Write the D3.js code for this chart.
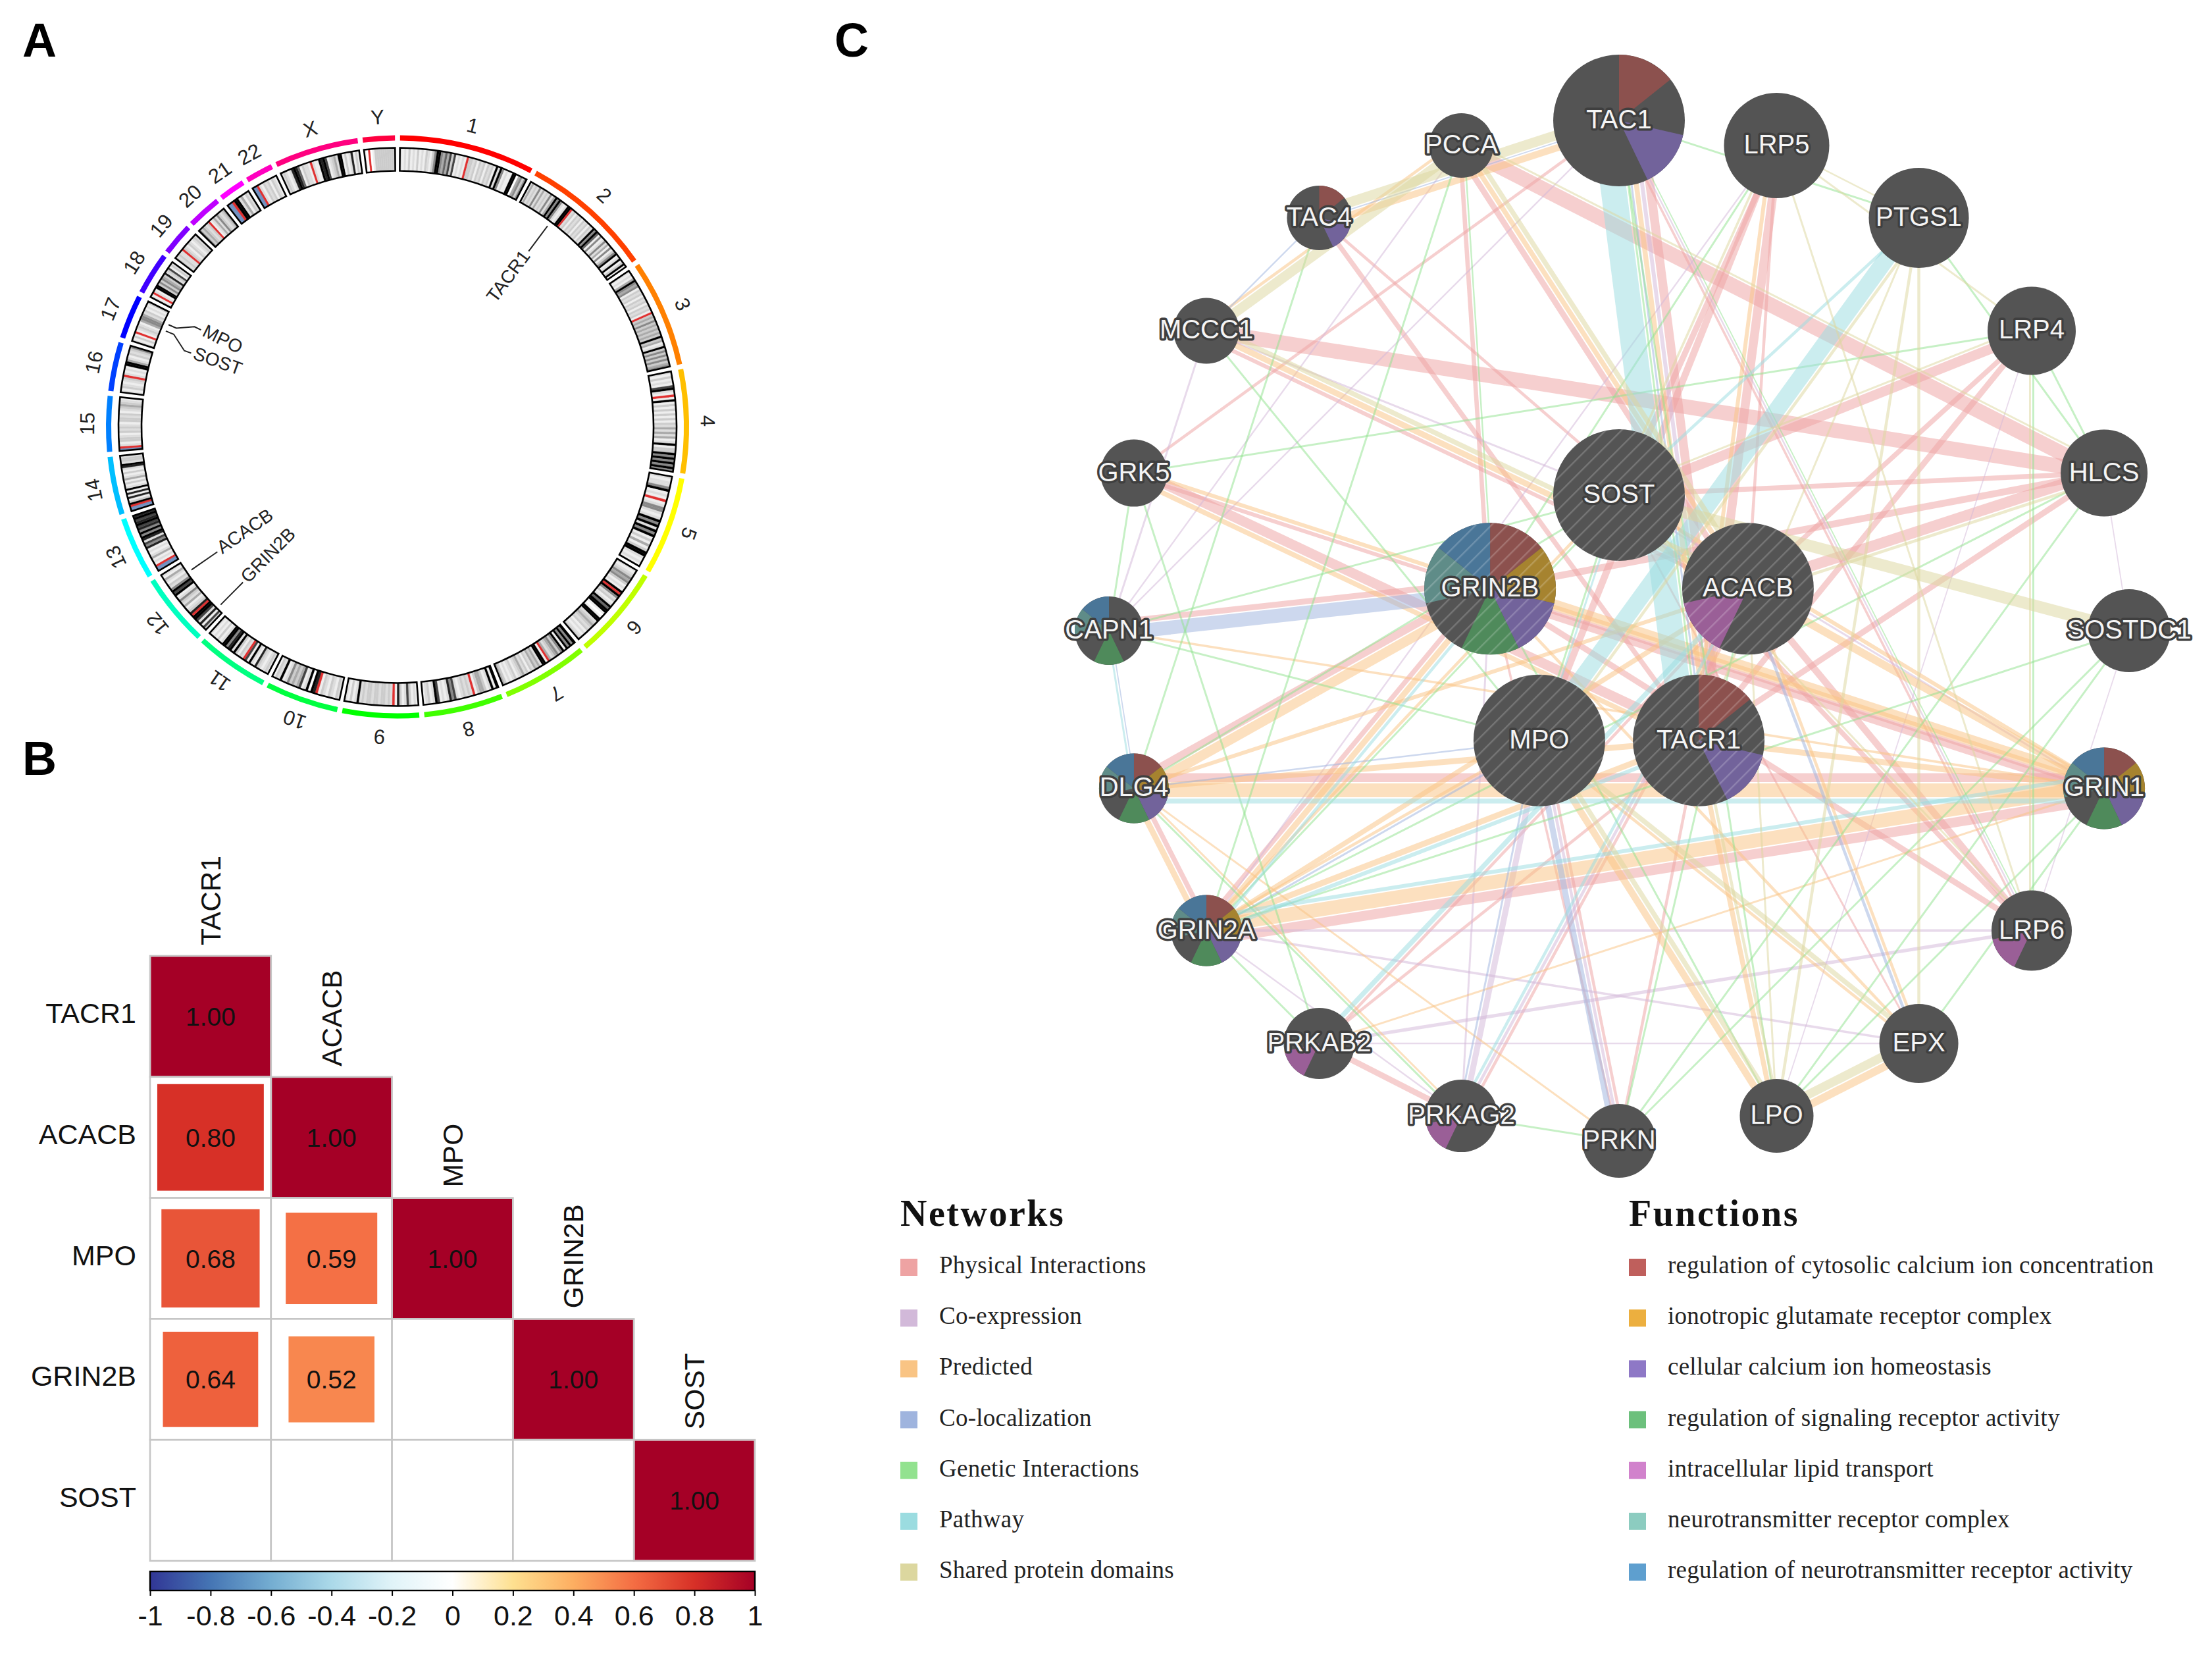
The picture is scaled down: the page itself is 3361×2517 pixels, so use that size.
<!doctype html>
<html>
<head>
<meta charset="UTF-8">
<title>Panels A B C</title>
<script src="https://d3js.org/d3.v7.min.js"></script>
<style>
  body { margin: 0; background: #fff; }
  text { font-family: "Liberation Sans", Arial, sans-serif; }
  .legend text { font-family: "Liberation Serif", serif; }
</style>
</head>
<body>
<svg id="fig" width="3361" height="2517" viewBox="0 0 3361 2517"></svg>
<script>
// ---------- panel A data ----------
var chromNames = ["1","2","3","4","5","6","7","8","9","10","11","12","13","14","15","16","17","18","19","20","21","22","X","Y"];
var chromLengths = [249,243,198,191,181,171,159,146,141,135,135,134,115,107,102,90,81,78,59,63,48,51,155,59];
var chromColors = ["#ff0000","#ff4000","#ff8000","#ffbf00","#ffff00","#bfff00","#80ff00","#40ff00","#00ff00","#00ff40","#00ff80","#00ffbf",
                   "#00ffff","#00bfff","#0080ff","#0040ff","#0000ff","#4000ff","#8000ff","#bf00ff","#ff00ff","#ff00bf","#ff0080","#ff0040"];
// one character per stretch of the chromosome: 0 white .. 9 black, r centromere, b stalk
var chromBands = [
  "2121312131213213599546473712121r3323132313231929512119904535",
  "24232524232524959521299r2313231323132959615125241513591291391",
  "2121495451323132313231r34353434343934129353535345",
  "2131217921r19131313131324242412913395959595",
  "212259121r125521295929591314139921 21".replace(/ /g,""),
  "212354531219r95231296991019923432312123",
  "95959195354324r19924342313243213212134",
  "9192134431r232321275821217921321",
  "1213721381r23233233233232921312",
  "231231231r890921743435219231",
  "232123812917r231392985992131212",
  "37182799r832142352197952312412",
  "bbr121421218572895958798798",
  "bbr931818192131421312892332",
  "br2133213232133231234321",
  "2132123r2121994213235",
  "2131r123214554231213",
  "21r21993535438237132",
  "32322r321321232",
  "534323r124253234",
  "bbr9924132",
  "bbr213231321",
  "232128986132 21r2119897123429913128131".replace(/ /g,""),
  "10r013333333333"
];
var geneNames = ["TACR1","MPO","SOST","ACACB","GRIN2B"];
var geneChroms = ["2","17","17","12","12"];
var genePositions = [75.3,56.3,41.8,109.5,13.7];   // Mb
var geneLabelShift = [0,2.2,-2.8,0,0];             // degrees the label is pushed from the gene

// ---------- panel B data ----------
var corrGenes = ["TACR1","ACACB","MPO","GRIN2B","SOST"];
var corrTACR1 = [1.00];
var corrACACB = [0.80,1.00];
var corrMPO = [0.68,0.59,1.00];
var corrGRIN2B = [0.64,0.52,null,1.00];
var corrSOST = [null,null,null,null,1.00];
var colorDomain = [-1,-0.8,-0.6,-0.4,-0.2,0,0.2,0.4,0.6,0.8,1];
var colorRange = ["#313695","#4575b4","#74add1","#abd9e9","#e0f3f8","#ffffff","#fee090","#fdae61","#f46d43","#d73027","#a50026"];
var colorTicks = [-1,-0.8,-0.6,-0.4,-0.2,0,0.2,0.4,0.6,0.8,1];

// ---------- panel C data ----------
var outerGenes = ["TAC1","LRP5","PTGS1","LRP4","HLCS","SOSTDC1","GRIN1","LRP6","EPX","LPO","PRKN","PRKAG2","PRKAB2","GRIN2A","DLG4","CAPN1","GRK5","MCCC1","TAC4","PCCA"];
var outerScores = [1.00,0.80,0.76,0.67,0.66,0.63,0.62,0.61,0.60,0.56,0.56,0.55,0.54,0.54,0.53,0.52,0.51,0.50,0.49,0.49];
var queryGenes = ["SOST","ACACB","TACR1","MPO","GRIN2B"];
var queryScores = [1,1,1,1,1];

var functionNames = ["regulation of cytosolic calcium ion concentration","ionotropic glutamate receptor complex","cellular calcium ion homeostasis",
  "regulation of signaling receptor activity","intracellular lipid transport","neurotransmitter receptor complex","regulation of neurotransmitter receptor activity"];
var functionColors = ["#bf5f5c","#ecaf3f","#8e78c6","#6cc07c","#d182cc","#8cccc0","#5e9fcf"];
var functionWedge = ["#8c514e","#a6832f","#72639b","#4f8a5b","#9a5f97","#5f8c88","#4a7698"];
// which functions each gene belongs to (index into functionNames)
var geneFunctions = {
  TAC1:[0,2], TAC4:[0,2], TACR1:[0,2], ACACB:[4], LRP6:[4], PRKAB2:[4], PRKAG2:[4],
  GRIN2B:[0,1,2,3,5,6], GRIN1:[0,1,2,3,5,6], GRIN2A:[0,1,2,3,5,6], DLG4:[0,1,2,3,5,6], CAPN1:[3,5,6]
};

var networkNames = ["Physical Interactions","Co-expression","Predicted","Co-localization","Genetic Interactions","Pathway","Shared protein domains"];
var networkColors = ["#eea3a3","#d2b9d9","#f9c484","#9fb4de","#92e28f","#9bdce0","#dcd79f"];

var physicalEdges = [["PCCA","HLCS",.75],["MCCC1","HLCS",.75],["PCCA","ACACB",.3],["MCCC1","ACACB",.2],["TAC1","TACR1",.45],["TAC1","GRK5",.15],
  ["TAC4","TACR1",.25],["TAC4","ACACB",.15],["PCCA","GRIN2B",.22],["LRP5","TACR1",.45],["LRP5","MPO",.35],["LRP5","SOST",.3],["LRP5","ACACB",.15],
  ["LRP4","SOST",.5],["LRP4","TACR1",.3],["LRP4","ACACB",.25],["HLCS","ACACB",.55],["HLCS","TACR1",.3],["HLCS","GRIN2B",.35],["HLCS","SOST",.25],
  ["GRK5","TACR1",.5],["GRK5","GRIN1",.2],["CAPN1","GRIN2B",.3],["DLG4","GRIN1",.45],["DLG4","GRIN2B",.4],["DLG4","GRIN2A",.25],["GRIN2A","GRIN1",.5],
  ["GRIN2A","GRIN2B",.25],["GRIN1","GRIN2B",.4],["LRP6","ACACB",.35],["LRP6","GRIN2B",.3],["LRP6","SOST",.25],["LRP6","TAC1",.12],["PRKAB2","PRKAG2",.3],
  ["PRKAB2","TACR1",.15],["PRKAB2","ACACB",.15],["PRKAG2","ACACB",.15],["PRKN","GRIN2B",.12],["PRKN","TACR1",.15],["PRKN","MPO",.15],["EPX","SOST",.1]];
var coexpEdges = [["GRIN2A","LRP6",.13],["GRIN2A","EPX",.12],["PRKAB2","LRP6",.17],["PRKAG2","MPO",.3],["PRKAG2","ACACB",.15],["PRKN","MPO",.15],
  ["MCCC1","CAPN1",.1],["TAC1","CAPN1",.08],["PCCA","CAPN1",.08],["TAC1","LRP6",.08],["LRP5","GRIN2A",.08],["LRP4","LPO",.06],["MCCC1","SOST",.1],
  ["SOSTDC1","HLCS",.06],["SOSTDC1","LRP6",.06],["GRIN2A","PRKAG2",.08],["EPX","PRKAB2",.08],["SOST","GRIN1",.1],["GRIN2B","PRKAG2",.1],["TAC1","TACR1",.2]];
var predictedEdges = [["TAC1","TAC4",.35],["MCCC1","ACACB",.3],["PCCA","ACACB",.25],["PCCA","MCCC1",.15],["DLG4","GRIN1",.7],["DLG4","GRIN2B",.5],
  ["DLG4","GRIN2A",.3],["GRIN2A","GRIN1",.7],["GRIN2A","GRIN2B",.3],["GRIN1","GRIN2B",.55],["GRIN1","TACR1",.3],["GRIN1","ACACB",.4],["DLG4","ACACB",.2],
  ["DLG4","TACR1",.3],["GRIN2A","ACACB",.25],["GRIN2A","TACR1",.3],["GRK5","GRIN1",.2],["GRK5","TACR1",.25],["MPO","LPO",.35],["MPO","EPX",.15],["EPX","LPO",.4],
  ["TACR1","LPO",.25],["LRP5","TACR1",.2],["TAC1","TACR1",.25],["CAPN1","GRIN1",.12],["MPO","GRIN2A",.15],["PRKAB2","GRIN1",.1],["PRKN","DLG4",.1],
  ["GRIN2B","EPX",.15],["ACACB","EPX",.15],["PRKAG2","DLG4",.1],["SOST","GRIN1",.2],["SOST","GRIN2A",.15]];
var colocEdges = [["CAPN1","GRIN2B",.7],["PRKN","MPO",.3],["TAC4","MCCC1",.08],["TAC1","TAC4",.06],["ACACB","EPX",.15],["GRIN2A","MPO",.1],["CAPN1","DLG4",.06],["PRKAG2","MPO",.1],["MPO","DLG4",.08],["TAC1","TACR1",.1]];
var geneticEdges = [["GRK5","LRP4",.1],["TAC1","PTGS1",.1],["PCCA","GRIN2A",.1],["TAC4","DLG4",.1],["MCCC1","MPO",.1],["GRK5","PRKAB2",.1],["CAPN1","MPO",.1],
  ["PTGS1","HLCS",.1],["LRP4","HLCS",.1],["LPO","GRIN1",.1],["GRIN2B","LPO",.1],["SOSTDC1","GRIN2A",.1],["SOSTDC1","PRKN",.1],["PRKN","PRKAG2",.1],["HLCS","PRKN",.1],
  ["HLCS","GRIN2A",.1],["TAC1","LPO",.1],["SOST","CAPN1",.1],["DLG4","SOST",.1],["DLG4","PRKAG2",.1],["GRIN2A","SOST",.1],["LRP5","GRIN2B",.1],["SOST","MPO",.1],
  ["ACACB","PRKN",.1],["LRP6","LRP4",.1],["GRK5","CAPN1",.1],["LRP6","TAC1",.06],["EPX","GRIN1",.1],["PRKAB2","GRIN2A",.1],["SOSTDC1","LPO",.1],["PCCA","GRIN2B",.08],["TAC1","TACR1",.1]];
var pathwayEdges = [["TAC1","TACR1",1.3],["PTGS1","MPO",.85],["PRKAB2","ACACB",.25],["PRKAG2","ACACB",.15],["GRIN2A","TACR1",.2],["DLG4","GRIN1",.25],
  ["CAPN1","DLG4",.1],["GRIN2A","GRIN1",.2],["GRIN2A","GRIN2B",.15],["SOST","MPO",.1],["SOST","PTGS1",.15]];
var domainEdges = [["PCCA","MCCC1",.5],["TAC1","TAC4",.5],["PCCA","ACACB",.25],["MCCC1","ACACB",.25],["HLCS","ACACB",.15],["SOST","SOSTDC1",.6],["PTGS1","MPO",.15],
  ["PTGS1","LPO",.15],["PTGS1","EPX",.15],["LRP4","LRP5",.1],["LRP4","LRP6",.1],["LRP5","LRP6",.1],["LRP4","SOST",.1],["LRP5","SOST",.12],["LRP6","SOST",.1],
  ["MPO","LPO",.25],["MPO","EPX",.25],["EPX","LPO",.45],["PTGS1","TACR1",.1],["LRP5","PTGS1",.08],["PCCA","HLCS",.1],["ACACB","LPO",.1],["TACR1","LPO",.15]];

var svg = d3.select("#fig");
var rad = function(a) { return a * Math.PI / 180; };

// panel letters
svg.selectAll("text.panel").data([["A",34,86],["B",34,1177],["C",1268,86]]).enter().append("text")
  .attr("class","panel").attr("x",function(d){return d[1];}).attr("y",function(d){return d[2];})
  .attr("font-size",72).attr("font-weight","bold").text(function(d){return d[0];});

// ---------- A: circular ideogram ----------
function drawIdeogram() {
  var g = svg.append("g").attr("transform","translate(604,648.5)");
  var gap = 1;
  var perMb = (360 - gap * chromNames.length) / d3.sum(chromLengths);
  var greys = {"0":"#ffffff","1":"#eeeeee","2":"#dddddd","3":"#cccccc","4":"#aaaaaa","5":"#888888","6":"#666666","7":"#444444","8":"#222222","9":"#000000","r":"#e03030","b":"#6f8fbf"};
  var rIn = 389, rOut = 424;
  var chromScale = {};
  var start = gap / 2;
  chromNames.forEach(function(name, i) {
    var end = start + chromLengths[i] * perMb;
    chromScale[name] = d3.scaleLinear().domain([0, chromLengths[i]]).range([start, end]);
    var a = chromScale[name];

    // coloured outer arc
    g.append("path").attr("fill", chromColors[i])
      .attr("d", d3.arc()({innerRadius:435, outerRadius:443, startAngle:rad(start), endAngle:rad(end)}));

    // chromosome number
    var mid = (start + end) / 2;
    var p = d3.pointRadial(rad(mid), 469);
    g.append("text").attr("transform","translate(" + p[0] + "," + p[1] + ") rotate(" + mid + ")")
      .attr("text-anchor","middle").attr("dominant-baseline","middle")
      .attr("font-size",31).attr("fill","#222").text(name);

    // bands
    var chars = chromBands[i].split("");
    var step = chromLengths[i] / chars.length;
    g.append("g").selectAll("path").data(chars).enter().append("path")
      .attr("fill", function(c){ return greys[c]; })
      .attr("stroke", function(c){ return greys[c]; }).attr("stroke-width",0.4)
      .attr("d", function(c, j) {
        return d3.arc()({innerRadius:rIn, outerRadius:rOut, startAngle:rad(a(j*step)), endAngle:rad(a((j+1)*step))});
      });
    g.append("path").attr("fill","none").attr("stroke","#000").attr("stroke-width",2.6)
      .attr("d", d3.arc()({innerRadius:rIn, outerRadius:rOut, startAngle:rad(start), endAngle:rad(end)}));
    start = end + gap;
  });

  // gene ticks and labels
  var linkLine = d3.lineRadial().curve(d3.curveLinear);
  geneNames.forEach(function(name, i) {
    var angle = chromScale[geneChroms[i]](genePositions[i]);
    var labelAngle = angle + geneLabelShift[i];
    g.append("path").attr("fill","none").attr("stroke","#222").attr("stroke-width",2)
      .attr("d", linkLine([[rad(angle),381],[rad(angle),368],[rad(labelAngle),344],[rad(labelAngle),333]]));
    var p = d3.pointRadial(rad(labelAngle), 329);
    var rightSide = labelAngle < 180;
    g.append("text").attr("transform","translate(" + p[0] + "," + p[1] + ") rotate(" + (rightSide ? labelAngle - 90 : labelAngle + 90) + ")")
      .attr("text-anchor", rightSide ? "end" : "start").attr("dominant-baseline","middle")
      .attr("font-size",28).attr("fill","#222").text(name);
  });
}

// ---------- B: correlation matrix ----------
function drawCorrelation() {
  var g = svg.append("g");
  var x = d3.scaleBand().domain(corrGenes).range([228,1147]);
  var y = d3.scaleBand().domain(corrGenes).range([1452,2371]);
  var color = d3.scaleLinear().domain(colorDomain).range(colorRange);
  var size = d3.scaleSqrt().domain([0,1]).range([0,181]);
  var rows = [corrTACR1,corrACACB,corrMPO,corrGRIN2B,corrSOST];

  rows.forEach(function(row, i) {
    row.forEach(function(v, j) {
      var cx = x(corrGenes[j]), cy = y(corrGenes[i]), w = x.bandwidth(), h = y.bandwidth();
      g.append("rect").attr("x",cx).attr("y",cy).attr("width",w).attr("height",h)
        .attr("fill","#fff").attr("stroke","#c6c6c6").attr("stroke-width",2.6);
      if (v === null) return;
      var s = size(v);
      g.append("rect").attr("x",cx+(w-s)/2).attr("y",cy+(h-s)/2).attr("width",s).attr("height",s).attr("fill",color(v));
      g.append("text").attr("x",cx+w/2).attr("y",cy+h/2+14).attr("text-anchor","middle")
        .attr("font-size",39).attr("fill","#111").text(d3.format(".2f")(v));
    });
  });

  corrGenes.forEach(function(name, i) {
    g.append("text").attr("x",207).attr("y",y(name)+y.bandwidth()/2+10).attr("text-anchor","end")
      .attr("font-size",43).attr("fill","#111").text(name);
    g.append("text").attr("transform","translate(" + (x(name)+x.bandwidth()/2+15) + "," + (y(name)-16) + ") rotate(-90)")
      .attr("font-size",42.5).attr("fill","#111").text(name);
  });

  // colour bar
  var barScale = d3.scaleLinear().domain([-1,1]).range([228,1147]);
  var grad = svg.append("defs").append("linearGradient").attr("id","cbar");
  colorDomain.forEach(function(v, i) {
    grad.append("stop").attr("offset",(v+1)/2).attr("stop-color",colorRange[i]);
  });
  g.append("rect").attr("x",228).attr("y",2387).attr("width",919).attr("height",29)
    .attr("fill","url(#cbar)").attr("stroke","#000").attr("stroke-width",2.4);
  var axis = d3.axisBottom(barScale).tickValues(colorTicks).tickSize(8).tickPadding(14).tickFormat(function(d){return String(d);});
  var ag = g.append("g").attr("transform","translate(0,2416)").call(axis);
  ag.select(".domain").remove();
  ag.selectAll("line").attr("stroke","#000").attr("stroke-width",2);
  ag.selectAll("text").attr("font-size",43).attr("font-family","Liberation Sans").attr("fill","#111");
}

// ---------- C: gene network ----------
function drawNetwork() {
  var g = svg.append("g").attr("transform","translate(2460,958)");
  var radius = d3.scaleLinear().domain([0,1]).range([0,100]);
  var edgeWidth = d3.scaleLinear().domain([0,1]).range([0,30]);
  var outerAngle = d3.scaleLinear().domain([0,outerGenes.length]).range([0,2*Math.PI]);
  var innerAngle = d3.scaleLinear().domain([0,queryGenes.length]).range([0,2*Math.PI]);

  var pos = {}, nodes = [];
  outerGenes.forEach(function(n,i){ pos[n] = d3.pointRadial(outerAngle(i),775); nodes.push({name:n,score:outerScores[i],query:false}); });
  queryGenes.forEach(function(n,i){ pos[n] = d3.pointRadial(innerAngle(i),206); nodes.push({name:n,score:queryScores[i],query:true}); });

  // hatch used on the query genes
  svg.select("defs").append("pattern").attr("id","hatch").attr("patternUnits","userSpaceOnUse")
    .attr("width",17).attr("height",17).attr("patternTransform","rotate(45)")
    .append("rect").attr("x",0).attr("y",0).attr("width",2.4).attr("height",17).attr("fill","rgba(255,255,255,0.2)");

  // stack edges between the same two genes side by side
  var edges = [];
  [physicalEdges,coexpEdges,predictedEdges,colocEdges,geneticEdges,pathwayEdges,domainEdges].forEach(function(list, k) {
    list.forEach(function(e){ edges.push({a:e[0],b:e[1],w:edgeWidth(e[2]),color:networkColors[k]}); });
  });
  var pairs = d3.group(edges, function(e){ return [e.a,e.b].sort().join("|"); });
  pairs.forEach(function(list, key) {
    var names = key.split("|");
    var total = d3.sum(list,function(e){return e.w;}) + (list.length-1)*2;
    var off = -total/2;
    var p = pos[names[0]], q = pos[names[1]];
    var len = Math.hypot(q[0]-p[0],q[1]-p[1]);
    var nx = -(q[1]-p[1])/len, ny = (q[0]-p[0])/len;
    list.forEach(function(e) {
      var o = off + e.w/2;
      off += e.w + 2;
      e.x1 = p[0]+nx*o; e.y1 = p[1]+ny*o; e.x2 = q[0]+nx*o; e.y2 = q[1]+ny*o;
    });
  });
  g.append("g").selectAll("line").data(edges).enter().append("line")
    .attr("x1",function(e){return e.x1;}).attr("y1",function(e){return e.y1;})
    .attr("x2",function(e){return e.x2;}).attr("y2",function(e){return e.y2;})
    .attr("stroke",function(e){return e.color;}).attr("stroke-width",function(e){return e.w;})
    .attr("stroke-opacity",0.52);

  // nodes with pie of the 7 functions, all wedges the same size
  var pie = d3.pie().sort(null).value(function(){return 1;});
  var node = g.append("g").selectAll("g").data(nodes).enter().append("g")
    .attr("transform",function(d){ return "translate(" + pos[d.name][0] + "," + pos[d.name][1] + ")"; });
  node.append("circle").attr("r",function(d){return radius(d.score);}).attr("fill","#545454");
  node.each(function(d) {
    var r = radius(d.score), member = geneFunctions[d.name] || [];
    d3.select(this).selectAll("path").data(pie(functionNames)).enter().append("path")
      .attr("d",d3.arc().innerRadius(0).outerRadius(r))
      .attr("fill",function(s){ return member.indexOf(s.index) >= 0 ? functionWedge[s.index] : "none"; });
  });
  node.filter(function(d){return d.query;}).append("circle").attr("r",function(d){return radius(d.score);}).attr("fill","url(#hatch)");
  node.append("text").attr("text-anchor","middle").attr("y",12).attr("font-size",40)
    .attr("fill","#f4f4f4").attr("stroke","#3f3f3f").attr("stroke-width",7).attr("stroke-linejoin","round")
    .style("paint-order","stroke").text(function(d){return d.name;});
}

// ---------- C: legends ----------
function drawLegend(x0, title, names, colors) {
  var g = svg.append("g").attr("class","legend");
  var y = d3.scalePoint().domain(names).range([1925,2388]);
  g.append("text").attr("x",x0).attr("y",1862).attr("font-size",56).attr("font-weight","bold")
    .attr("letter-spacing",2.5).attr("fill","#111").text(title);
  names.forEach(function(n,i) {
    g.append("rect").attr("x",x0).attr("y",y(n)-13).attr("width",26).attr("height",26).attr("fill",colors[i]);
    g.append("text").attr("x",x0+59).attr("y",y(n)+9).attr("font-size",37).attr("letter-spacing",0.25).attr("fill","#222").text(n);
  });
}

drawIdeogram();
drawCorrelation();
drawNetwork();
drawLegend(1368,"Networks",networkNames,networkColors);
drawLegend(2475,"Functions",functionNames,functionColors);
</script>
</body>
</html>
